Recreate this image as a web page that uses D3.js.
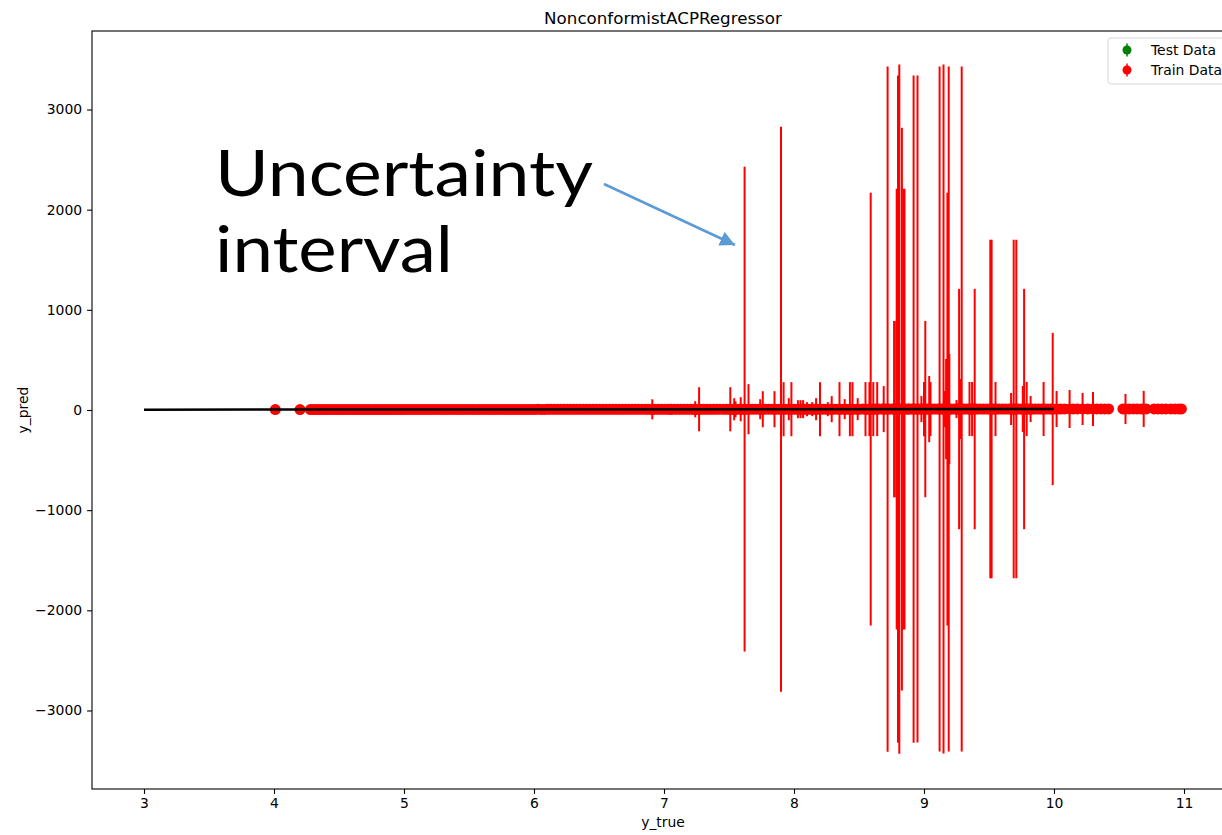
<!DOCTYPE html>
<html>
<head>
<meta charset="utf-8">
<script src="https://cdn.jsdelivr.net/npm/d3@7"></script>
<style>
  body { margin: 0; background: #fff; overflow: hidden; }
  svg { display: block; font-family: "DejaVu Sans", sans-serif; }
</style>
</head>
<body>
<div id="chart"></div>
<script>
// train points: [y_true, y_pred, interval half-width]
const trainIsolated = [[4.01, 4.2, 20], [4.20, 4.4, 25]];

const trainBand = [
  [4.28,4.5,30],[4.33,4.6,25],[4.38,4.4,35],[4.43,4.7,30],[4.48,4.6,28],[4.53,4.8,32],[4.58,4.7,30],[4.63,4.9,26],
  [4.68,4.8,34],[4.73,5.0,30],[4.78,4.9,28],[4.83,5.1,32],[4.88,5.0,30],[4.93,5.2,27],[4.98,5.1,33],[5.03,5.3,30],
  [5.08,5.2,29],[5.13,5.4,31],[5.18,5.3,30],[5.23,5.5,28],[5.28,5.4,32],[5.33,5.6,30],[5.38,5.5,27],[5.43,5.7,33],
  [5.48,5.6,30],[5.53,5.8,29],[5.58,5.7,31],[5.63,5.9,30],[5.68,5.8,28],[5.73,6.0,32],[5.78,5.9,30],[5.83,6.1,27],
  [5.88,6.0,33],[5.93,6.2,30],[5.98,6.1,29],[6.03,6.3,31],[6.08,6.2,30],[6.13,6.4,28],[6.18,6.3,32],[6.23,6.5,30],
  [6.28,6.4,27],[6.33,6.6,33],[6.38,6.5,30],[6.43,6.7,29],[6.48,6.6,31],[6.53,6.8,30],[6.58,6.7,28],[6.63,6.9,35],
  [6.68,6.8,40],[6.73,7.0,30],[6.78,6.9,28],[6.83,7.1,32],[6.88,7.0,30],[6.93,7.2,27],[6.98,7.1,33],[7.03,7.3,30],
  [7.08,7.2,29],[7.13,7.4,31],[7.18,7.3,30],[7.23,7.5,28],[7.28,7.4,32],[7.33,7.6,30],[7.38,7.5,27],[7.43,7.7,33],
  [7.48,7.6,30],[7.53,7.8,29],[7.58,7.7,31],[7.63,7.9,30],[7.68,7.8,28],[7.73,8.0,32],[7.78,7.9,30],[7.83,8.1,27],
  [7.88,8.0,33],[7.93,8.2,30],[7.98,8.1,29],[8.03,8.3,31],[8.08,8.2,30],[8.13,8.4,28],[8.18,8.3,32],[8.23,8.5,30],
  [8.28,8.4,27],[8.33,8.6,33],[8.38,8.5,30],[8.43,8.7,29],[8.48,8.6,31],[8.53,8.8,30],[8.58,8.7,28],[8.63,8.9,32],
  [8.68,8.8,30],[8.73,9.0,27],[8.78,8.9,33],[8.83,9.1,30],[8.88,9.0,29],[8.93,9.2,31],[8.98,9.1,30],[9.03,9.3,28],
  [9.08,9.2,32],[9.13,9.4,30],[9.18,9.3,27],[9.23,9.5,33],[9.28,9.4,30],[9.33,9.6,29],[9.38,9.5,31],[9.43,9.7,30],
  [9.48,9.6,28],[9.53,9.8,32],[9.58,9.7,30],[9.63,9.9,27],[9.68,9.8,33],[9.73,10.0,30],[9.78,9.9,29],[9.83,10.1,31],
  [9.88,10.0,30],[9.93,10.2,28],[9.98,10.1,32]
];

// second pass of band points lying between the first ones
const trainBandMid = [
  [4.305,4.5,28],[4.355,4.5,30],[4.405,4.6,32],[4.455,4.6,27],[4.505,4.7,30],[4.555,4.7,33],[4.605,4.8,29],[4.655,4.8,30],
  [4.705,4.9,31],[4.755,4.9,28],[4.805,5.0,30],[4.855,5.0,32],[4.905,5.1,29],[4.955,5.1,30],[5.005,5.2,27],[5.055,5.2,31],
  [5.105,5.3,30],[5.155,5.3,28],[5.205,5.4,33],[5.255,5.4,30],[5.305,5.5,29],[5.355,5.5,31],[5.405,5.6,30],[5.455,5.6,28],
  [5.505,5.7,32],[5.555,5.7,30],[5.605,5.8,27],[5.655,5.8,33],[5.705,5.9,30],[5.755,5.9,29],[5.805,6.0,31],[5.855,6.0,30],
  [5.905,6.1,28],[5.955,6.1,32],[6.005,6.2,30],[6.055,6.2,27],[6.105,6.3,33],[6.155,6.3,30],[6.205,6.4,29],[6.255,6.4,31],
  [6.305,6.5,30],[6.355,6.5,28],[6.405,6.6,32],[6.455,6.6,30],[6.505,6.7,27],[6.555,6.7,33],[6.605,6.8,30],[6.655,6.8,38],
  [6.705,6.9,30],[6.755,6.9,29],[6.805,7.0,31],[6.855,7.0,30],[6.905,7.1,28],[6.955,7.1,32],[7.005,7.2,30],[7.055,7.2,27],
  [7.105,7.3,33],[7.155,7.3,30],[7.205,7.4,29],[7.255,7.4,31],[7.305,7.5,30],[7.355,7.5,28],[7.405,7.6,32],[7.455,7.6,30],
  [7.505,7.7,27],[7.555,7.7,33],[7.605,7.8,30],[7.655,7.8,29],[7.705,7.9,31],[7.755,7.9,30],[7.805,8.0,28],[7.855,8.0,32],
  [7.905,8.1,30],[7.955,8.1,27],[8.005,8.2,33],[8.055,8.2,30],[8.105,8.3,29],[8.155,8.3,31],[8.205,8.4,30],[8.255,8.4,28],
  [8.305,8.5,32],[8.355,8.5,30],[8.405,8.6,27],[8.455,8.6,33],[8.505,8.7,30],[8.555,8.7,29],[8.605,8.8,31],[8.655,8.8,30],
  [8.705,8.9,28],[8.755,8.9,32],[8.805,9.0,30],[8.855,9.0,27],[8.905,9.1,33],[8.955,9.1,30],[9.005,9.2,29],[9.055,9.2,31],
  [9.105,9.3,30],[9.155,9.3,28],[9.205,9.4,32],[9.255,9.4,30],[9.305,9.5,27],[9.355,9.5,33],[9.405,9.6,30],[9.455,9.6,29],
  [9.505,9.7,31],[9.555,9.7,30],[9.605,9.8,28],[9.655,9.8,32],[9.705,9.9,30],[9.755,9.9,27],[9.805,10.0,33],[9.855,10.0,30],
  [9.905,10.1,29],[9.955,10.1,31]
];

const trainSpikes = [
  [6.91,7.0,100],[7.05,7.1,50],[7.24,7.3,80],[7.27,7.4,220],[7.51,7.6,220],[7.54,7.6,110],[7.55,7.7,80],
  [7.59,7.7,120],[7.62,7.7,2420],[7.65,7.8,250],[7.74,7.8,100],[7.76,7.9,180],[7.85,8.0,180],[7.90,8.0,2820],
  [7.92,8.0,270],[7.96,8.1,110],[7.98,8.1,270],[8.03,8.1,90],[8.05,8.2,90],[8.07,8.2,90],[8.10,8.2,70],
  [8.14,8.3,70],[8.17,8.3,110],[8.20,8.3,270],[8.26,8.4,70],[8.29,8.4,130],[8.35,8.5,270],[8.39,8.5,100],
  [8.43,8.5,270],[8.45,8.6,270],[8.49,8.6,110],[8.55,8.7,270],[8.58,8.7,270],[8.59,8.7,2160],[8.61,8.7,270],
  [8.64,8.8,270],[8.69,8.8,230],[8.72,8.8,3420],[8.77,8.9,880],[8.775,8.9,880],[8.79,8.9,2200],[8.80,8.9,3330],
  [8.81,8.9,3440],[8.83,9.0,2810],[8.84,9.0,2200],[8.85,9.0,2200],[8.88,9.0,50],[8.92,9.0,3330],[8.95,9.1,3330],
  [8.98,9.1,130],[9.00,9.1,270],[9.01,9.1,880],[9.04,9.2,330],[9.05,9.2,270],[9.12,9.2,3420],[9.15,9.3,3440],
  [9.16,9.3,180],[9.17,9.3,500],[9.18,9.3,2160],[9.185,9.3,450],[9.19,9.3,3420],[9.195,9.3,550],[9.25,9.4,90],
  [9.27,9.4,1200],[9.28,9.4,300],[9.29,9.4,3420],[9.35,9.5,270],[9.37,9.5,270],[9.39,9.5,1200],[9.51,9.6,1690],
  [9.52,9.6,1690],[9.55,9.6,270],[9.67,9.7,160],[9.69,9.8,1690],[9.71,9.8,1690],[9.76,9.8,230],[9.77,9.9,1200],
  [9.79,9.9,270],[9.82,9.9,130],[9.92,10.0,270],[9.99,10.1,760]
];

const trainTail = [
  [10.02,10.1,180],[10.05,10.1,40],[10.08,10.2,30],[10.12,10.2,190],[10.15,10.2,40],[10.18,10.3,30],
  [10.22,10.3,160],[10.26,10.3,40],[10.30,10.4,170],[10.33,10.4,30],[10.36,10.4,40],[10.39,10.5,30],
  [10.42,10.5,30],[10.53,10.6,30],[10.55,10.6,150],[10.58,10.7,30],[10.61,10.7,40],[10.64,10.7,30],
  [10.67,10.7,30],[10.69,10.8,180],[10.71,10.8,30],[10.77,10.8,30],[10.80,10.9,40],[10.83,10.9,30],
  [10.86,10.9,30],[10.90,11.0,30],[10.93,11.0,30],[10.96,11.0,40],[10.98,11.1,30]
];

// reference diagonal y = x
const diagX = [3, 10];
const diagY = [3, 10];

const xTicks = [3, 4, 5, 6, 7, 8, 9, 10, 11];
const yTicks = [-3000, -2000, -1000, 0, 1000, 2000, 3000];
const legendLabels = ['Test Data', 'Train Data'];
const legendColors = ['green', 'red'];

const W = 1222, H = 835;
const svg = d3.select('#chart').append('svg')
  .attr('width', W).attr('height', H);

const x = d3.scaleLinear().domain([2.6, 11.38]).range([92, 1233.4]);
const y = d3.scaleLinear().domain([-3784, 3784]).range([789, 31]);

const train = [...trainIsolated, ...trainBand, ...trainBandMid, ...trainSpikes, ...trainTail];

// error bars first, then markers on top
const plot = svg.append('g');
plot.selectAll('line.err')
  .data(train)
  .enter().append('line')
  .attr('class', 'err')
  .attr('x1', d => x(d[0])).attr('x2', d => x(d[0]))
  .attr('y1', d => y(d[1] - d[2])).attr('y2', d => y(d[1] + d[2]))
  .attr('stroke', 'red')
  .attr('stroke-width', 2);

plot.selectAll('circle')
  .data(train)
  .enter().append('circle')
  .attr('cx', d => x(d[0])).attr('cy', d => y(d[1]))
  .attr('r', 5.5)
  .attr('fill', 'red');

plot.append('path')
  .datum(diagX.map((v, i) => [v, diagY[i]]))
  .attr('d', d3.line().x(d => x(d[0])).y(d => y(d[1])))
  .attr('stroke', 'black')
  .attr('stroke-width', 2.5)
  .attr('fill', 'none');

// axes
const xAxis = svg.append('g')
  .attr('transform', `translate(0,${789})`)
  .call(d3.axisBottom(x).tickValues(xTicks).tickSize(4.9).tickPadding(4).tickFormat(d3.format('d')));
const yAxis = svg.append('g')
  .attr('transform', `translate(${92},0)`)
  .call(d3.axisLeft(y).tickValues(yTicks).tickSize(4.9).tickPadding(5)
    .tickFormat(d => d < 0 ? '\u2212' + Math.abs(d) : String(d)));

[xAxis, yAxis].forEach(a => {
  a.select('.domain').remove();
  a.selectAll('.tick line').attr('stroke', '#000').attr('stroke-width', 1.1);
  a.selectAll('.tick text').attr('fill', '#000')
    .style('font-family', '"DejaVu Sans", sans-serif').style('font-size', '13.9px');
});

// spines (right spine falls outside the picture)
svg.append('rect')
  .attr('x', 92).attr('y', 31)
  .attr('width', 1233.4 - 92).attr('height', 789 - 31)
  .attr('fill', 'none').attr('stroke', '#000').attr('stroke-width', 1.1);

// labels and title
svg.append('text')
  .attr('x', 663).attr('y', 24)
  .attr('text-anchor', 'middle')
  .style('font-size', '16.7px')
  .text('NonconformistACPRegressor');

svg.append('text')
  .attr('x', 663).attr('y', 827)
  .attr('text-anchor', 'middle')
  .style('font-size', '13.9px')
  .text('y_true');

svg.append('text')
  .attr('transform', 'translate(28,410) rotate(-90)')
  .attr('text-anchor', 'middle')
  .style('font-size', '13.9px')
  .text('y_pred');

// legend
const legend = svg.append('g').attr('transform', 'translate(1108,38)');
legend.append('rect')
  .attr('width', 130).attr('height', 46).attr('rx', 3)
  .attr('fill', 'white').attr('fill-opacity', 0.8)
  .attr('stroke', '#d5d5d5').attr('stroke-width', 1);

const items = legend.selectAll('g.item')
  .data(legendLabels)
  .enter().append('g')
  .attr('class', 'item')
  .attr('transform', (d, i) => `translate(0,${12 + i * 20})`);

items.append('line')
  .attr('x1', 19).attr('x2', 19).attr('y1', -6.5).attr('y2', 6.5)
  .attr('stroke', (d, i) => legendColors[i]).attr('stroke-width', 1.5);
items.append('circle')
  .attr('cx', 19).attr('cy', 0).attr('r', 4.5)
  .attr('fill', (d, i) => legendColors[i]);
items.append('text')
  .attr('x', 43).attr('y', 5)
  .style('font-size', '13.9px')
  .text(d => d);

// annotation
const note = svg.append('g')
  .style('font-family', 'Lato, "Noto Sans", sans-serif')
  .style('font-size', '63px')
  .attr('fill', '#000');
note.append('text').attr('x', 215).attr('y', 196)
  .attr('textLength', 378).attr('lengthAdjust', 'spacingAndGlyphs')
  .text('Uncertainty');
note.append('text').attr('x', 215).attr('y', 272)
  .attr('textLength', 238).attr('lengthAdjust', 'spacingAndGlyphs')
  .text('interval');

svg.append('defs').append('marker')
  .attr('id', 'head')
  .attr('viewBox', '0 0 10 10')
  .attr('refX', 10).attr('refY', 5)
  .attr('markerWidth', 6).attr('markerHeight', 6)
  .attr('markerUnits', 'strokeWidth')
  .attr('orient', 'auto')
  .append('path')
  .attr('d', 'M0,0 L10,5 L0,10 z')
  .attr('fill', '#5b9bd5');

svg.append('line')
  .attr('x1', 604).attr('y1', 184)
  .attr('x2', 735).attr('y2', 245)
  .attr('stroke', '#5b9bd5')
  .attr('stroke-width', 2.5)
  .attr('marker-end', 'url(#head)');
</script>
</body>
</html>
